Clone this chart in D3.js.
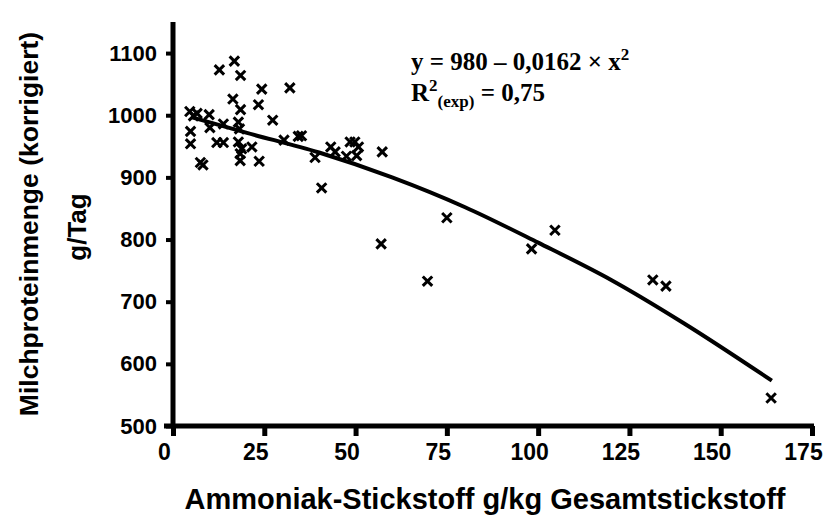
<!DOCTYPE html>
<html>
<head>
<meta charset="utf-8">
<script src="https://cdn.jsdelivr.net/npm/d3@7"></script>
<style>
html,body{margin:0;padding:0;background:#fff;}
svg{display:block;}
</style>
</head>
<body>
<div id="chart"></div>
<script>
// ---- data ----
const pointsX = [12.7,16.8,18.5,24.3,32.0,16.4,23.4,18.5,27.3,4.6,5.6,6.6,9.9,13.8,17.9,10.1,4.8,18.2,
  4.8,12.0,13.8,17.9,18.8,21.6,18.4,18.4,23.6,7.5,8.2,
  30.4,34.3,35.2,38.9,40.7,43.2,44.4,47.5,48.5,49.8,50.8,50.3,57.3,
  57.0,69.7,75.0,98.2,104.6,131.4,135.0,163.8];
const pointsY = [1073,1087,1064,1042,1044,1026,1017,1009,992,1006,999,1003,1001,986,989,980,974,978,
  954,956,956,957,946,949,938,927,926,924,920,
  960,966,967,932,883,949,941,934,957,957,949,935,941,
  793,733,835,785,815,735,725,545];

const curveX = [5, 20, 40, 60, 80, 100, 120, 140, 164];
const curveY = [997, 972, 940, 900, 852, 795, 735, 665, 573];

const xTicks = [0, 25, 50, 75, 100, 125, 150, 175];
const yTicks = [500, 600, 700, 800, 900, 1000, 1100];

const xTitle = "Ammoniak-Stickstoff g/kg Gesamtstickstoff";
const yTitle1 = "Milchproteinmenge (korrigiert)";
const yTitle2 = "g/Tag";

// ---- drawing ----
const W = 823, H = 521;
const svg = d3.select("#chart").append("svg").attr("width", W).attr("height", H);

const x = d3.scaleLinear().domain([0, 175]).range([173, 812]);
const y = d3.scaleLinear().domain([500, 1150]).range([426, 22]);

const font = "'Liberation Sans', Arial, sans-serif";

// y axis
const yAxis = svg.append("g").attr("transform", `translate(${x(0)},0)`)
  .call(d3.axisLeft(y).tickValues(yTicks).tickSize(7).tickPadding(9).tickFormat(d3.format("d")));
yAxis.select(".domain").attr("d", `M0,${y(1150)}V${y(500)+2}`).attr("stroke", "#000").attr("stroke-width", 5);
yAxis.selectAll(".tick line").attr("stroke", "#000").attr("stroke-width", 4);
yAxis.selectAll(".tick text").attr("font-family", font).attr("font-weight", "bold")
  .attr("font-size", 22).attr("fill", "#000");

// x axis
const xAxis = svg.append("g").attr("transform", `translate(0,${y(500)})`)
  .call(d3.axisBottom(x).tickValues(xTicks).tickSize(10).tickPadding(8).tickFormat(d3.format("d")));
xAxis.select(".domain").attr("d", `M${x(0)-9},0H${x(175)+2}`).attr("stroke", "#000").attr("stroke-width", 5);
xAxis.selectAll(".tick line").attr("stroke", "#000").attr("stroke-width", 5);
xAxis.selectAll(".tick text").attr("font-family", font).attr("font-weight", "bold")
  .attr("font-size", 23).attr("fill", "#000").attr("dx", -9);

// fitted curve
const curveData = curveX.map((v, i) => [v, curveY[i]]);
svg.append("path").datum(curveData)
  .attr("d", d3.line().x(d => x(d[0])).y(d => y(d[1])).curve(d3.curveMonotoneX))
  .attr("fill", "none").attr("stroke", "#000").attr("stroke-width", 4);

// points
const pts = pointsX.map((v, i) => [v, pointsY[i]]);
const sym = d3.symbol().type(d3.symbolX).size(60);
svg.append("g").selectAll("path").data(pts).join("path")
  .attr("transform", d => `translate(${x(d[0])},${y(d[1])})`)
  .attr("d", sym).attr("fill", "none").attr("stroke", "#000").attr("stroke-width", 3);

// equation text
const serif = "'Liberation Serif', 'Times New Roman', serif";
const eq = svg.append("text").attr("x", 411).attr("y", 70)
  .attr("font-family", serif).attr("font-weight", "bold")
  .attr("font-size", 25).attr("fill", "#000");
eq.append("tspan").text("y = 980 \u2013 0,0162 \u00d7 x");
eq.append("tspan").attr("dy", -10).attr("font-size", 17).text("2");

const r2 = svg.append("text").attr("x", 411).attr("y", 101)
  .attr("font-family", serif).attr("font-weight", "bold")
  .attr("font-size", 25).attr("fill", "#000");
r2.append("tspan").text("R");
r2.append("tspan").attr("dy", -10).attr("font-size", 17).text("2");
r2.append("tspan").attr("dy", 16).attr("font-size", 17).text("(exp)");
r2.append("tspan").attr("dy", -6).text(" = 0,75");

// axis titles
svg.append("text").attr("x", 485).attr("y", 509).attr("text-anchor", "middle")
  .attr("font-family", font).attr("font-weight", "bold").attr("font-size", 29).attr("fill", "#000")
  .text(xTitle);

svg.append("text").attr("transform", "translate(38,224) rotate(-90)").attr("text-anchor", "middle")
  .attr("font-family", font).attr("font-weight", "bold").attr("font-size", 26.5).attr("fill", "#000")
  .text(yTitle1);
svg.append("text").attr("transform", "translate(86,227) rotate(-90)").attr("text-anchor", "middle")
  .attr("font-family", font).attr("font-weight", "bold").attr("font-size", 26).attr("fill", "#000")
  .text(yTitle2);
</script>
</body>
</html>
